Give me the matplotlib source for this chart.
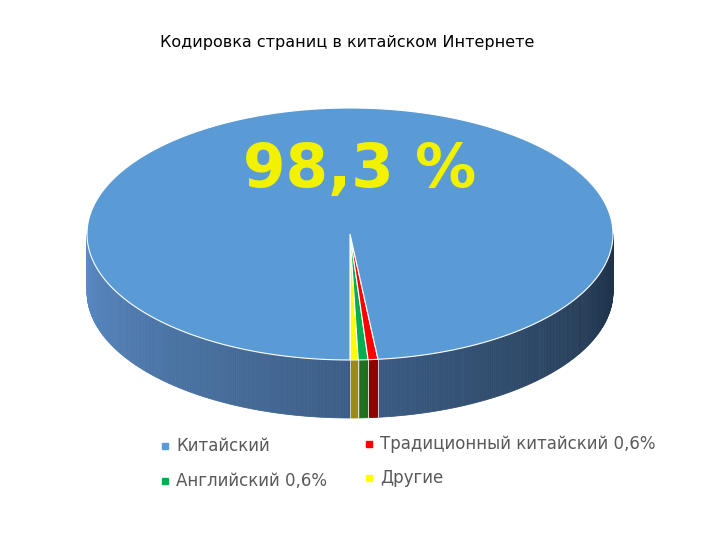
import numpy as np
import matplotlib
matplotlib.use("Agg")
import matplotlib.pyplot as plt
from matplotlib.patches import Polygon
import matplotlib.colors as mc

labels = ["Китайский", "Традиционный китайский 0,6%", "Английский 0,6%", "Другие"]
values = [98.3, 0.6, 0.6, 0.5]
colors = ["#5b9bd5", "#ff0000", "#00b050", "#ffff00"]
side_dark = ["#5b9bd5", "#8b0000", "#1f6e1f", "#9a8a10"]

fig = plt.figure(figsize=(7.2, 5.4), dpi=100)
ax = fig.add_axes([0, 0, 1, 1])
ax.set_xlim(0, 720); ax.set_ylim(540, 0); ax.axis("off")

cx, cy, rx, ry, depth = 350, 234, 263, 126, 58
# angles (deg, y-down param): small slices start at front (90) going toward right
fr = np.array(values) / sum(values) * 360
order = [3, 2, 1, 0]  # yellow, green, red, blue
bounds = {}
a = 90.0
for i in order:
    bounds[i] = (a - fr[i], a)
    a -= fr[i]

def pt(t):
    t = np.radians(t)
    return cx + rx*np.cos(t), cy + ry*np.sin(t)

# side wall
def blue_side(t):
    f = (180 - t) / 180  # 0 left, 1 right
    c1 = np.array(mc.to_rgb("#5a8bc6")); c2 = np.array(mc.to_rgb("#1d3045"))
    return c1*(1-f) + c2*f
for t0 in np.arange(0, 180, 0.5):
    t1 = t0 + 0.5
    tm = (t0+t1)/2
    idx = 0
    for i in order:
        lo, hi = bounds[i]
        if lo <= tm < hi or lo <= tm-360 < hi:
            idx = i
    col = blue_side(tm) if idx == 0 else side_dark[idx]
    x0, y0 = pt(t0); x1, y1 = pt(t1)
    ax.add_patch(Polygon([(x0, y0), (x1, y1), (x1, y1+depth), (x0, y0+depth)],
                         closed=True, fc=col, ec=col, lw=0.5))
for i in order[:3]:
    for t in bounds[i]:
        x, y = pt(t)
        ax.plot([x, x], [y, y+depth], color="#dddddd", lw=0.6)

# top face
for i in order:
    lo, hi = bounds[i]
    ts = np.linspace(lo, hi, 400)
    xs, ys = pt(ts)
    poly = [(cx, cy)] + list(zip(xs, ys))
    ax.add_patch(Polygon(poly, closed=True, fc=colors[i], ec="white", lw=0.8))

ax.text(160, 42, "Кодировка страниц в китайском Интернете", fontsize=11.5, va="center", ha="left")
ax.text(360, 170, "98,3 %", fontsize=44, fontweight="bold", color="#f2f200", ha="center", va="center")

leg = [(labels[0], colors[0], 168, 446), (labels[1], colors[1], 372, 444),
       (labels[2], colors[2], 168, 481), (labels[3], colors[3], 372, 478)]
for text, c, x, y in leg:
    ax.add_patch(Polygon([(x-6, y-3), (x, y-3), (x, y+3), (x-6, y+3)], fc=c, ec=c))
    ax.text(x+8, y, text, fontsize=12, color="#595959", va="center", ha="left")

fig.savefig("out.png", dpi=100)
